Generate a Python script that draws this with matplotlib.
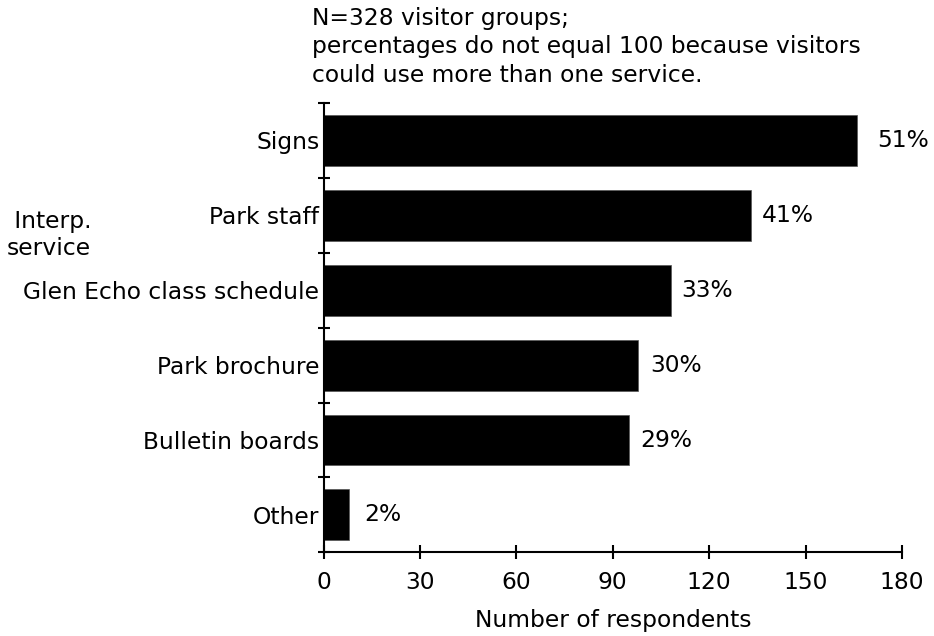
import matplotlib
matplotlib.use("Agg")
import matplotlib.pyplot as plt

# Interpretive services used (number of visitor groups)
services = ["Signs", "Park staff", "Glen Echo class schedule",
            "Park brochure", "Bulletin boards", "Other"]
counts = [166, 133, 108, 98, 95, 8]
percents = ["51%", "41%", "33%", "30%", "29%", "2%"]
xticks = [0, 30, 60, 90, 120, 150, 180]

note_lines = ["N=328 visitor groups;",
              "percentages do not equal 100 because visitors",
              "could use more than one service."]

# gap (points) between each bar end and its percentage label
label_gaps = [14.5, 7.5, 8, 8.5, 8, 11]

plt.rcParams["font.family"] = "DejaVu Sans"
fs = 16.8

fig = plt.figure(figsize=(9.34, 6.36), dpi=100)
ax = fig.add_axes([0.3464, 0.1313, 0.6193, 0.7075])

ypos = list(range(len(services)))
ax.barh(ypos, counts, height=0.68, color="black", edgecolor="#555555",
        linewidth=0.5)
for y, c, txt, gap in zip(ypos, counts, percents, label_gaps):
    ax.annotate(txt, (c, y), xytext=(gap, 0), textcoords="offset points",
                ha="left", va="center", fontsize=fs)

ax.set_xlim(0, 180)
ax.set_ylim(len(services) - 0.5, -0.5)
ax.set_xticks(xticks)
ax.set_yticks(ypos)
ax.set_yticklabels(services)
ax.set_yticks([y - 0.5 for y in range(len(services) + 1)], minor=True)

ax.tick_params(axis="x", direction="inout", length=10, width=1.5,
               labelsize=fs, pad=8)
ax.tick_params(axis="y", which="major", length=0, labelsize=fs, pad=3)
ax.tick_params(axis="y", which="minor", direction="inout", length=8, width=1.5)

for side in ["top", "right"]:
    ax.spines[side].set_visible(False)
for side in ["left", "bottom"]:
    ax.spines[side].set_linewidth(1.5)

ax.set_xlabel("Number of respondents", fontsize=fs, labelpad=11)
ax.set_ylabel(" Interp.\nservice", fontsize=fs, rotation=0, ha="left",
              va="center", multialignment="left")
ax.yaxis.set_label_coords(-0.547, 0.705)

# explanatory note above the plot area
for i, line in enumerate(note_lines):
    fig.text(312 / 934, 1 - (19 + 28 * i) / 636, line, fontsize=fs,
             ha="left", va="center")

fig.savefig("out.png", dpi=100)
